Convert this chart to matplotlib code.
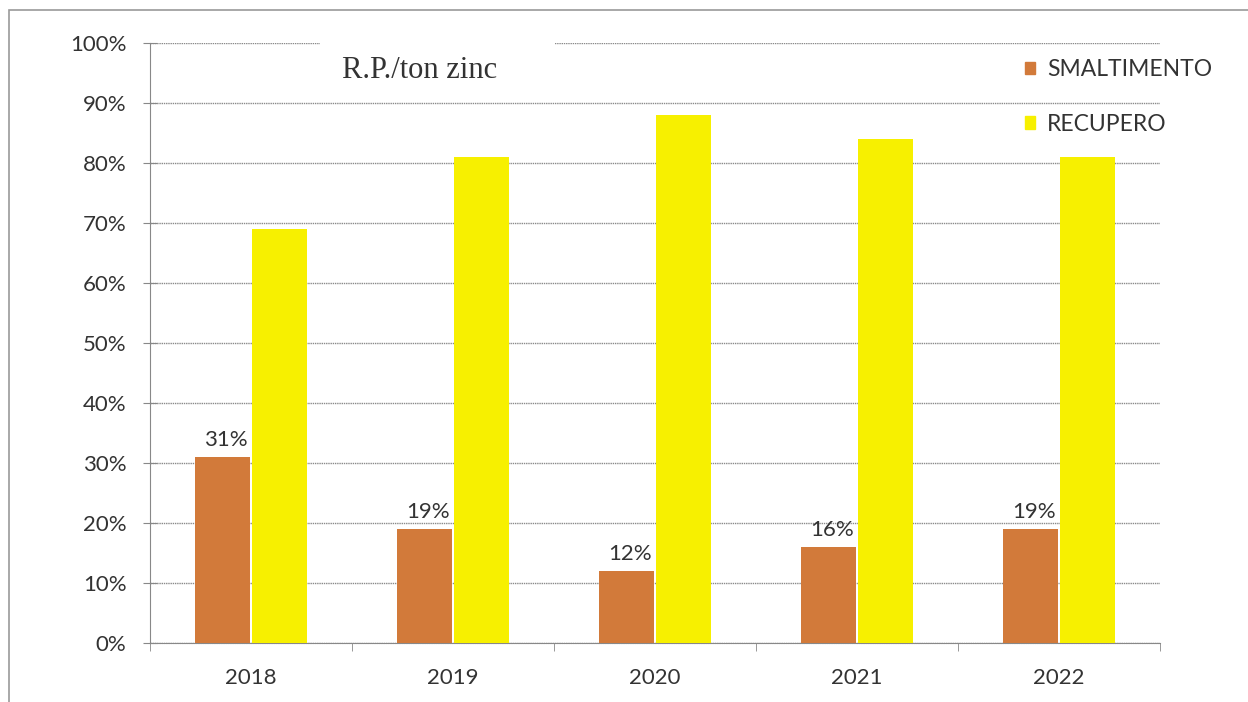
import matplotlib
matplotlib.use("Agg")
import matplotlib.pyplot as plt
import numpy as np
from matplotlib.patches import Rectangle, Patch

years = ["2018", "2019", "2020", "2021", "2022"]
smaltimento = [31, 19, 12, 16, 19]
recupero = [69, 81, 88, 84, 81]
yticks = [0, 10, 20, 30, 40, 50, 60, 70, 80, 90, 100]

c_orange = "#D27A3A"
c_yellow = "#F7F000"
txt = "#333333"

fig = plt.figure(figsize=(12.48, 7.02), dpi=100)
W, H = 1248, 702
ax = fig.add_axes([150 / W, 1 - 643 / H, 1010 / W, 600 / H])

# outer frame (scanned page border)
fig.patches.append(Rectangle((9 / W, -0.05), 1.2, 1 - 10 / H + 0.05, transform=fig.transFigure,
                             fill=False, edgecolor="#9a9a9a", linewidth=1.2))

x = np.arange(len(years))
bw = 0.272
ax.bar(x - 0.141, smaltimento, bw, color=c_orange, label="SMALTIMENTO", zorder=3)
ax.bar(x + 0.141, recupero, bw, color=c_yellow, label="RECUPERO", zorder=3)

for xi, v in zip(x, smaltimento):
    ax.text(xi - 0.125, v + 1.2, f"{v}%", ha="center", va="bottom",
            fontsize=16, color=txt, family="Lato", zorder=4)

ax.set_xlim(-0.5, len(years) - 0.5)
ax.set_ylim(0, 100)
ax.set_yticks(yticks)
ax.set_yticklabels([f"{t}%" for t in yticks], fontsize=16, color=txt, family="Lato")
ax.set_xticks(x)
ax.set_xticklabels(years, fontsize=16, color=txt, family="Lato")
ax.set_xticks(np.arange(-0.5, len(years)), minor=True)
ax.tick_params(axis="x", which="major", length=0, pad=18)
ax.tick_params(axis="x", which="minor", length=6, color="#888888", direction="out")
ax.tick_params(axis="y", length=10, direction="inout", color="#888888", pad=12)

ax.grid(axis="y", color="#8a8a8a", linestyle=(0, (1, 0.6)), linewidth=1.0, zorder=0)
for s in ["top", "right"]:
    ax.spines[s].set_visible(False)
ax.spines["left"].set_color("#888888")
ax.spines["bottom"].set_color("#888888")
ax.spines["bottom"].set_linestyle((0, (1, 0.6)))

# white box behind the title, interrupting the top gridline
ax.add_patch(Rectangle((170 / 1010, 0.97), 235 / 1010, 0.05, transform=ax.transAxes,
                       facecolor="white", edgecolor="none", zorder=2, clip_on=False))
ax.text(0.19, 0.955, "R.P./ton zinc", transform=ax.transAxes, ha="left", va="center",
        fontsize=22, family="Liberation Serif", color=txt, zorder=5)

handles = [Patch(color=c_orange), Patch(color=c_yellow)]
leg = ax.legend(handles, ["SMALTIMENTO", "RECUPERO"], loc="upper left",
                bbox_to_anchor=(0.846, 1.008), frameon=False, handlelength=0.45,
                handleheight=0.45, handletextpad=0.5, labelspacing=1.47,
                prop={"family": "Lato", "size": 16.5})
for t in leg.get_texts():
    t.set_color(txt)

fig.savefig("out.png", dpi=100, facecolor="white")
